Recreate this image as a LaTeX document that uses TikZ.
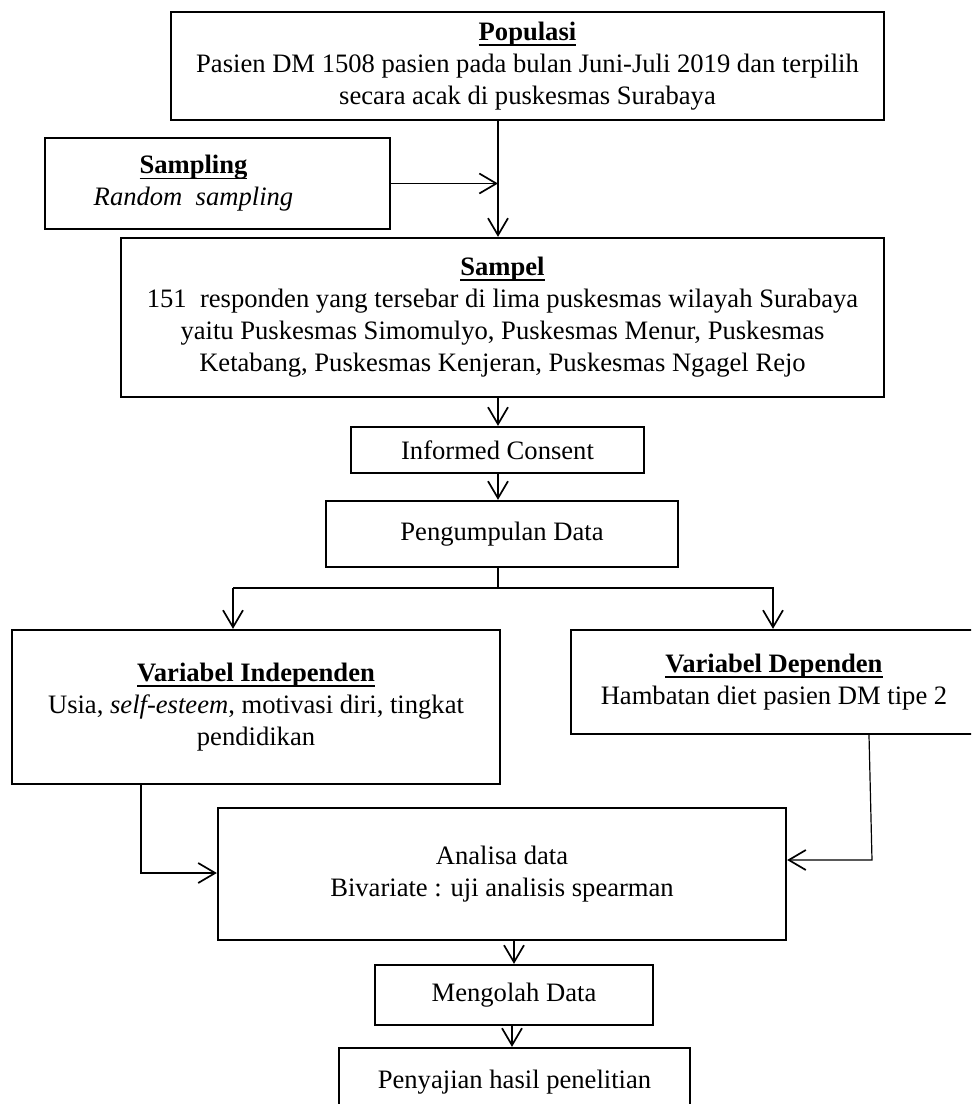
\documentclass[tikz,border=0pt]{standalone}
\usepackage{fontspec}
\setmainfont{Liberation Serif}
\usetikzlibrary{arrows.meta}
\newcommand{\judul}[1]{\setbox0\hbox{\textbf{#1}}\leavevmode\rlap{\rule[-2.6pt]{\wd0}{0.8pt}}\box0}

\begin{document}
\begin{tikzpicture} [
    x=0.5pt, y=-0.5pt,
    box/.style={rectangle, draw=black, line width=1.15pt, fill=white, inner sep=2pt, align=center, font=\fontsize{13.3}{16}\selectfont},
    arrow/.style={line width=0.85pt, -{Straight Barb[length=8.5pt,width=10pt,line width=0.85pt]}},
    line/.style={line width=0.85pt}
]
    \clip (0,0) rectangle (971,1104);
    \fill[white] (0,0) rectangle (971,1104);

    % boxes
    \node[box, minimum width=356.5pt, minimum height=54pt] (pop) at (527.5,66) {\judul{Populasi}\\Pasien DM 1508 pasien pada bulan Juni-Juli 2019 dan terpilih\\secara acak di puskesmas Surabaya};
    \node[box, minimum width=172.5pt, minimum height=45.5pt] (smp) at (217.5,183.5) {\judul{Sampling}\hspace*{24pt}\\\textit{Random~ sampling}\hspace*{24pt}};
    \node[box, minimum width=381.5pt, minimum height=79.5pt] (sam) at (502.5,317.5) {\judul{Sampel}\\151~ responden yang tersebar di lima puskesmas wilayah Surabaya\\yaitu Puskesmas Simomulyo, Puskesmas Menur, Puskesmas\\Ketabang, Puskesmas Kenjeran, Puskesmas Ngagel Rejo};
    \node[box, minimum width=146.5pt, minimum height=23pt] (ic) at (497.5,450) {Informed Consent};
    \node[box, minimum width=176pt, minimum height=33pt] (pd) at (502,534) {Pengumpulan Data};
    \node[box, minimum width=244pt, minimum height=77pt] (vi) at (256,707) {\judul{Variabel Independen}\\Usia, \textit{self-esteem}, motivasi diri, tingkat\\pendidikan};
    \node[box, minimum width=203pt, minimum height=52pt] (vd) at (774,682) {\judul{Variabel Dependen}\\Hambatan diet pasien DM tipe 2};
    \node[box, minimum width=284pt, minimum height=66pt] (an) at (502,874) {Analisa data\\Bivariate : uji analisis spearman};
    \node[box, minimum width=139pt, minimum height=30pt] (mo) at (514,995) {Mengolah Data};
    \node[box, minimum width=175.5pt, minimum height=34pt] (pen) at (514.5,1082) {Penyajian hasil penelitian};

    % turning points
    \coordinate (spine) at (498,0);
    \coordinate (splitL) at (233,588);
    \coordinate (splitR) at (773,588);
    \coordinate (viTurn) at (141,873);
    \coordinate (vdTop) at (869,0);
    \coordinate (vdTurn) at (872,860);

    % connectors
    \draw[arrow] (pop.south -| spine) -- (sam.north -| spine);
    \draw[arrow] (smp.east) -- (smp.east -| spine);
    \draw[arrow] (sam.south -| spine) -- (ic.north -| spine);
    \draw[arrow] (ic.south -| spine) -- (pd.north -| spine);
    \draw[line] (pd.south -| spine) -- (spine |- splitL);
    \draw[arrow] (splitL) -- (splitL |- vi.north);
    \draw[arrow] (splitL) -- (splitR) -- (splitR |- vd.north);
    \draw[arrow] (vi.south -| viTurn) -- (viTurn) -- (an.west |- viTurn);
    \draw[arrow, line width=0.6pt] (vd.south -| vdTop) -- (vdTurn) -- (an.east |- vdTurn);
    \draw[arrow] (an.south -| mo.north) -- (mo.north);
    \draw[arrow] (mo.south -| 512,0) -- (pen.north -| 512,0);
\end{tikzpicture}
\end{document}
